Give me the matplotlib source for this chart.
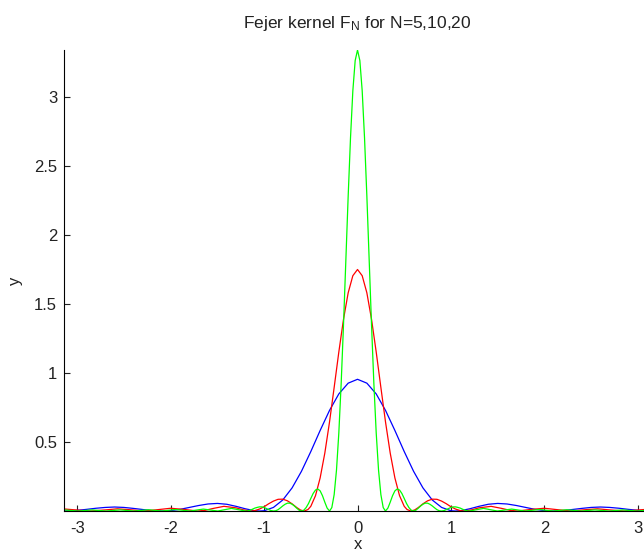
import numpy as np
import matplotlib
matplotlib.use("Agg")
import matplotlib.pyplot as plt

plt.rcParams['font.family'] = ['Liberation Sans', 'DejaVu Sans']
plt.rcParams['axes.unicode_minus'] = False

# values, right half only (curves are symmetric about x=0)
# N=5 (blue)
x_n5 = [0, .1, .2, .3, .4, .5, .6, .7, .8, .9, 1.0, 1.047, 1.1, 1.2, 1.3, 1.4,
        1.5, 1.6, 1.7, 1.8, 1.9, 2.0, 2.094, 2.2, 2.3, 2.4, 2.5, 2.6, 2.7, 2.8,
        2.9, 3.0, 3.1, 3.1416]
y_n5 = [.955, .927, .849, .729, .584, .431, .288, .168, .080, .026, .002, 0,
        .002, .016, .034, .049, .055, .051, .040, .026, .012, .003, 0, .003,
        .011, .019, .026, .029, .026, .020, .012, .005, .0004, 0]

# N=10 (red)
x_n10 = [0, .05, .1, .15, .2, .25, .3, .35, .4, .45, .5, .53, .571, .61, .65,
         .7, .75, .8, .85, .9, .95, 1.0, 1.05, 1.1, 1.142, 1.22, 1.3, 1.43,
         1.55, 1.63, 1.714, 1.85, 2.0, 2.15, 2.285, 2.43, 2.57, 2.7, 2.856,
         3.0, 3.1416]
y_n10 = [1.751, 1.706, 1.582, 1.390, 1.153, .896, .644, .420, .240, .111, .034,
         .011, 0, .007, .025, .052, .074, .086, .085, .072, .053, .031, .014,
         .003, 0, .008, .023, .034, .018, .005, 0, .011, .020, .009, 0, .009,
         .016, .008, 0, .007, .015]

# N=20 (green)
x_n20 = [0, .025, .05, .075, .1, .125, .15, .175, .2, .225, .25, .275, .299,
         .325, .35, .375, .4, .425, .45, .475, .5, .525, .55, .575, .598, .625,
         .65, .675, .7, .725, .75, .775, .8, .825, .85, .875, .898, .925, .95,
         .975, 1.0, 1.025, 1.05, 1.075, 1.1, 1.125, 1.15, 1.175, 1.197, 1.35,
         1.496, 1.65, 1.795, 1.95, 2.094, 2.24, 2.394, 2.54, 2.693, 2.84,
         2.992, 3.1416]
y_n20 = [3.342, 3.266, 3.047, 2.706, 2.283, 1.816, 1.350, .924, .567, .297,
         .119, .025, 0, .021, .064, .111, .146, .160, .152, .127, .091, .054,
         .025, .006, 0, .006, .020, .036, .049, .057, .057, .049, .037, .023,
         .010, .002, 0, .003, .010, .018, .026, .030, .030, .026, .021, .013,
         .006, .001, 0, .019, 0, .014, 0, .011, 0, .009, 0, .008, 0, .008, 0,
         .008]

def mirror(x, y):
    x = np.asarray(x)
    y = np.asarray(y)
    return np.concatenate([-x[::-1], x[1:]]), np.concatenate([y[::-1], y[1:]])

fig = plt.figure(figsize=(6.44, 5.56), dpi=100)
# axes runs past the right edge of the figure, like the cropped original
ax = fig.add_axes([0.0994, 0.0809, 0.9115, 0.8291])

for xs, ys, c in [(x_n5, y_n5, (0, 0, 1)), (x_n10, y_n10, (1, 0, 0)),
                  (x_n20, y_n20, (0, 1, 0))]:
    xx, yy = mirror(xs, ys)
    ax.plot(xx, yy, color=c, lw=0.9)

ax.set_xlim(-np.pi, np.pi)
ax.set_ylim(0, max(y_n20))
ax.set_xticks([-3, -2, -1, 0, 1, 2, 3])
ax.set_yticks([0.5, 1, 1.5, 2, 2.5, 3])
ax.set_yticklabels(['0.5', '1', '1.5', '2', '2.5', '3'])
ax.tick_params(direction='in', length=4.5, width=0.8, labelsize=12,
               colors='#222222')
ax.tick_params(axis='x', pad=7)
ax.tick_params(axis='y', pad=5)

ax.spines['top'].set_visible(False)
ax.spines['right'].set_visible(False)
ax.spines['left'].set_linewidth(0.8)
ax.spines['bottom'].set_linewidth(0.8)

ax.set_title(r'Fejer kernel $\mathregular{F_N}$ for N=5,10,20', fontsize=12.5,
             pad=16, color='#222222')
ax.set_xlabel('x', fontsize=12, labelpad=1, color='#222222')
ax.set_ylabel('y', fontsize=12, labelpad=8, color='#222222')

fig.savefig('out.png', dpi=100)
